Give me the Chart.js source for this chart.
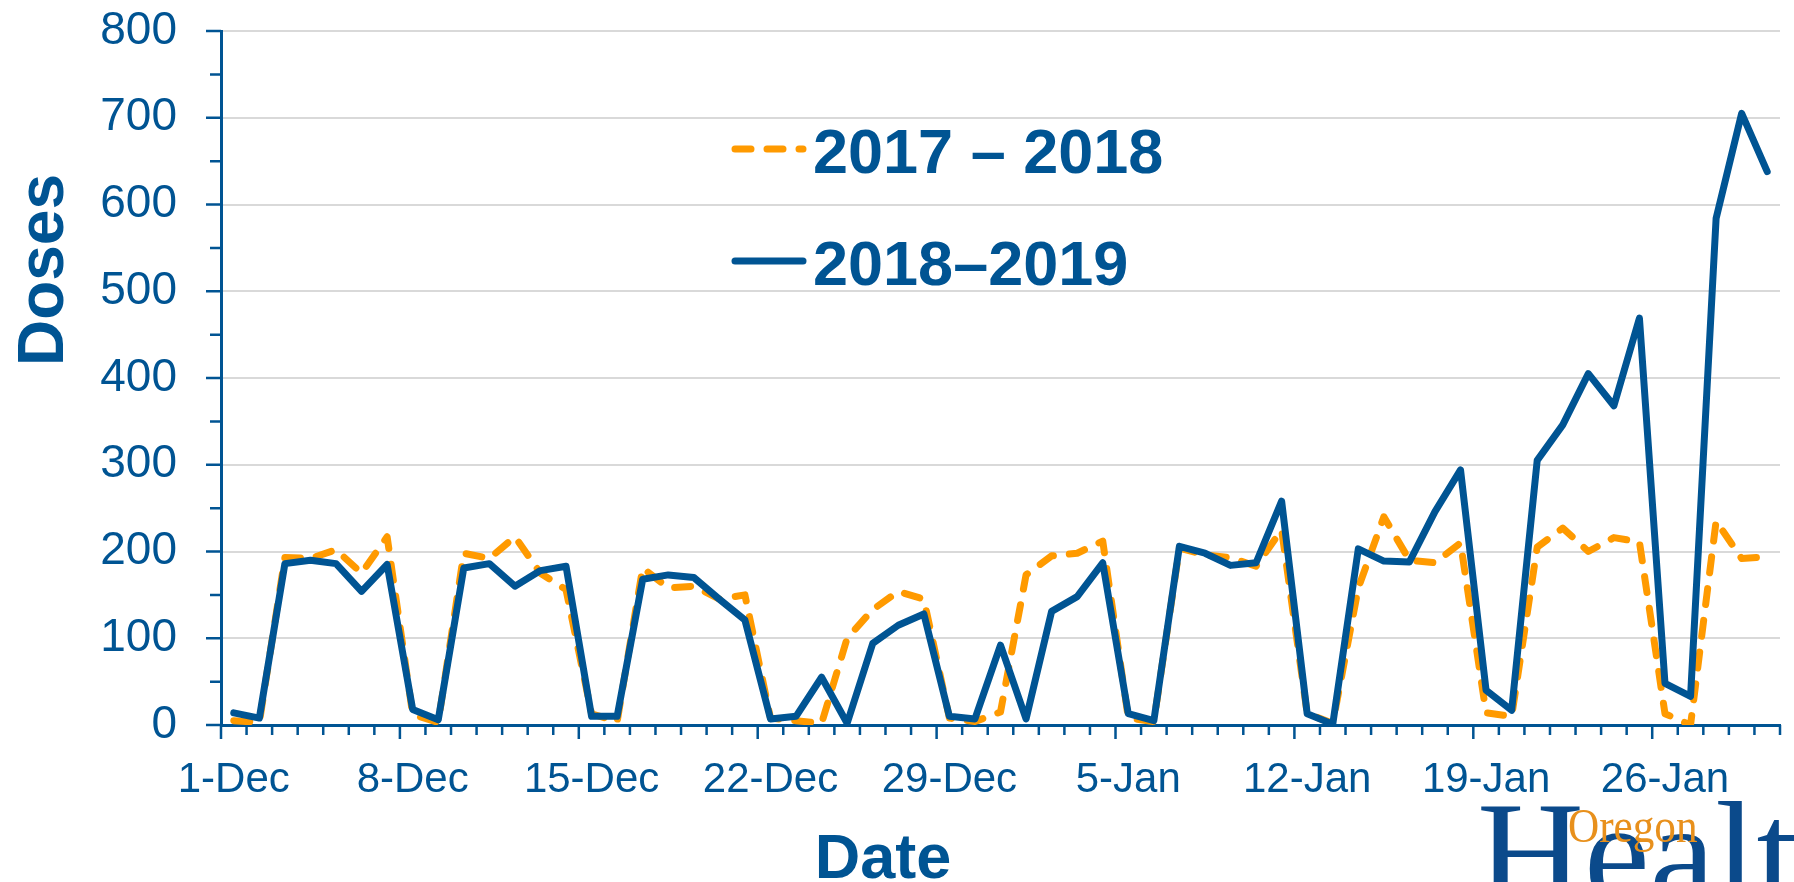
<!doctype html>
<html lang="en">
<head>
<meta charset="utf-8">
<title>Doses by date</title>
<style>
  body { margin: 0; background: #ffffff; }
  #wrap { position: relative; width: 1794px; height: 882px; overflow: hidden; }
  #logo { position: absolute; left: 1477px; top: 780px; font-family: 'Liberation Serif', 'Times New Roman', serif;
          color: #0b4a8b; font-size: 148px; line-height: 1; white-space: nowrap; }
  #logo span { position: absolute; left: 91px; top: 22px; font-size: 48px; color: #E8901C;
               transform: scaleX(0.9); transform-origin: left top; }
</style>
</head>
<body>
<div id="wrap">
  <canvas id="myChart" width="1794" height="882"></canvas>
  <div id="logo">Health<span>Oregon</span></div>
</div>

<script src="https://cdn.jsdelivr.net/npm/chart.js@4.4.0/dist/chart.umd.min.js"></script>
<script>
    // one point per day, 1-Dec .. 30-Jan
    const dates = [
        '1-Dec', '2-Dec', '3-Dec', '4-Dec', '5-Dec', '6-Dec', '7-Dec', '8-Dec', '9-Dec', '10-Dec',
        '11-Dec', '12-Dec', '13-Dec', '14-Dec', '15-Dec', '16-Dec', '17-Dec', '18-Dec', '19-Dec', '20-Dec',
        '21-Dec', '22-Dec', '23-Dec', '24-Dec', '25-Dec', '26-Dec', '27-Dec', '28-Dec', '29-Dec', '30-Dec',
        '31-Dec', '1-Jan', '2-Jan', '3-Jan', '4-Jan', '5-Jan', '6-Jan', '7-Jan', '8-Jan', '9-Jan',
        '10-Jan', '11-Jan', '12-Jan', '13-Jan', '14-Jan', '15-Jan', '16-Jan', '17-Jan', '18-Jan', '19-Jan',
        '20-Jan', '21-Jan', '22-Jan', '23-Jan', '24-Jan', '25-Jan', '26-Jan', '27-Jan', '28-Jan', '29-Jan',
        '30-Jan'
    ];
    const shownDates = ['1-Dec', '8-Dec', '15-Dec', '22-Dec', '29-Dec', '5-Jan', '12-Jan', '19-Jan', '26-Jan'];

    const doses1718 = [
        5, 3, 193, 192, 202, 175, 217, 12, 3, 198,
        192, 217, 175, 156, 13, 4, 181, 158, 160, 145,
        150, 8, 5, 2, 100, 133, 154, 145, 8, 4,
        15, 173, 195, 198, 212, 8, 4, 204, 196, 193,
        183, 225, 13, 2, 158, 240, 190, 187, 210, 14,
        10, 205, 227, 200, 216, 211, 13, 0, 235, 192,
        194
    ];
    const doses1819 = [
        14, 8, 186, 190, 186, 154, 185, 18, 6, 181,
        186, 160, 178, 183, 10, 10, 168, 173, 170, 145,
        121, 7, 10, 55, 2, 94, 115, 128, 10, 7,
        92, 7, 131, 148, 187, 13, 5, 206, 198, 184,
        187, 258, 13, 1, 203, 189, 188, 246, 294, 40,
        17, 305, 346, 405, 368, 469, 48, 33, 584, 705,
        638
    ];
    const seriesNames = ['2017 \u2013 2018', '2018\u20132019'];
    const xTitle = 'Date';
    const yTitle = 'Doses';

    const BLUE = '#005493';
    const ORANGE = '#FF9A00';
    const FONT = "'Liberation Sans', Arial, sans-serif";

    // small tick marks on both axes (every 50 on y, every day on x)
    const axisMarks = {
        id: 'axisMarks',
        afterDraw(chart) {
            const { ctx, scales: { x, y } } = chart;
            ctx.save();
            ctx.strokeStyle = BLUE;
            ctx.lineWidth = 2.5;
            ctx.beginPath();
            for (let v = y.min; v <= y.max; v += 50) {
                const py = y.getPixelForValue(v);
                const len = v % 100 === 0 ? 15 : 11;
                ctx.moveTo(y.right - len, py);
                ctx.lineTo(y.right, py);
            }
            const step = x.getPixelForValue(1) - x.getPixelForValue(0);
            for (let i = 0; i <= dates.length; i++) {
                const px = x.getPixelForValue(0) - step / 2 + i * step;
                const len = i % 7 === 0 ? 14 : 10;
                ctx.moveTo(px, x.top);
                ctx.lineTo(px, x.top + len);
            }
            ctx.stroke();
            ctx.restore();
        }
    };

    // axis titles and the legend inside the plot
    const titlesAndLegend = {
        id: 'titlesAndLegend',
        afterDraw(chart) {
            const ctx = chart.ctx;
            ctx.save();
            ctx.fillStyle = BLUE;
            ctx.font = 'bold 63px ' + FONT;
            ctx.textAlign = 'center';
            ctx.textBaseline = 'alphabetic';
            ctx.fillText(xTitle, 883, 878);

            ctx.save();
            ctx.translate(63, 270);
            ctx.rotate(-Math.PI / 2);
            ctx.font = 'bold 64px ' + FONT;
            ctx.fillText(yTitle, 0, 0);
            ctx.restore();

            const rows = [149, 261];
            chart.data.datasets.forEach((ds, k) => {
                const cy = rows[k];
                ctx.strokeStyle = ds.borderColor;
                ctx.lineWidth = ds.borderWidth;
                ctx.lineCap = 'round';
                ctx.setLineDash(ds.borderDash || []);
                ctx.beginPath();
                ctx.moveTo(735, cy);
                ctx.lineTo(803, cy);
                ctx.stroke();
                ctx.setLineDash([]);
                ctx.font = 'bold 63px ' + FONT;
                ctx.textAlign = 'left';
                ctx.fillText(ds.label, 813, cy + 23.5);
            });
            ctx.restore();
        }
    };

    let ctx = document.getElementById('myChart').getContext('2d');
    let myChart = new Chart(ctx, {
        type: 'line',
        data: {
            labels: dates,
            datasets: [{
                label: seriesNames[0],
                data: doses1718,
                borderColor: ORANGE,
                borderWidth: 7,
                borderDash: [16, 16],
                borderCapStyle: 'round',
                borderJoinStyle: 'round',
                pointRadius: 0,
                tension: 0,
                order: 2
            }, {
                label: seriesNames[1],
                data: doses1819,
                borderColor: BLUE,
                borderWidth: 7,
                borderCapStyle: 'round',
                borderJoinStyle: 'round',
                pointRadius: 0,
                tension: 0,
                order: 1
            }]
        },
        options: {
            responsive: false,
            animation: false,
            devicePixelRatio: 1,
            layout: { padding: { top: 31, right: 14, left: 0, bottom: 0 } },
            plugins: {
                legend: { display: false },
                tooltip: { enabled: false }
            },
            scales: {
                x: {
                    offset: true,
                    grid: { display: false, offset: true },
                    border: { display: true, color: BLUE, width: 3 },
                    ticks: {
                        autoSkip: false,
                        maxRotation: 0,
                        minRotation: 0,
                        padding: 22,
                        color: BLUE,
                        font: { family: FONT, size: 42 },
                        callback: (v, i) => shownDates.includes(dates[i]) ? dates[i] : ''
                    },
                    afterFit: s => { s.height = 157; }
                },
                y: {
                    min: 0,
                    max: 800,
                    ticks: {
                        stepSize: 100,
                        padding: 44,
                        color: BLUE,
                        font: { family: FONT, size: 46 }
                    },
                    grid: { color: '#D9D9D9', lineWidth: 2, drawTicks: false },
                    border: { color: BLUE, width: 3 },
                    afterFit: s => {
                        s.width = 221;
                        s.paddingTop = 0;
                        s.paddingBottom = 0;
                    }
                }
            }
        },
        plugins: [axisMarks, titlesAndLegend]
    });
</script>
</body>
</html>
